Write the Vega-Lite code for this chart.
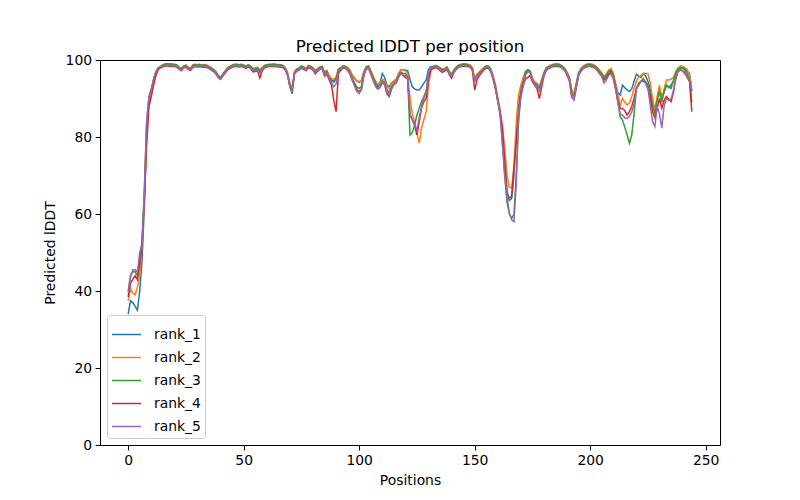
{
"$schema": "https://vega.github.io/schema/vega-lite/v6.json",
"width": 620, "height": 385,
"autosize": {"type": "none"},
"padding": {"left": 100, "top": 60, "right": 80, "bottom": 55},
"background": "white",
"title": {"text": "Predicted lDDT per position", "fontSize": 16.7, "fontWeight": "normal", "font": "DejaVu Sans", "color": "black", "offset": -3, "anchor": "middle"},
"data": {"values": [
{"p":0,"rank_1":34,"rank_2":37.5,"rank_3":40,"rank_4":38.5,"rank_5":39.5},
{"p":1,"rank_1":37.5,"rank_2":40.5,"rank_3":44,"rank_4":42,"rank_5":43.5},
{"p":2,"rank_1":37,"rank_2":39.5,"rank_3":45,"rank_4":43,"rank_5":45.5},
{"p":3,"rank_1":36,"rank_2":39,"rank_3":45,"rank_4":44,"rank_5":45.5},
{"p":4,"rank_1":35,"rank_2":41,"rank_3":44,"rank_4":43,"rank_5":45},
{"p":5,"rank_1":40,"rank_2":44,"rank_3":48,"rank_4":47,"rank_5":50},
{"p":6,"rank_1":48,"rank_2":52,"rank_3":53,"rank_4":52,"rank_5":52},
{"p":7,"rank_1":62,"rank_2":64,"rank_3":66,"rank_4":64,"rank_5":66},
{"p":8,"rank_1":81,"rank_2":82,"rank_3":84,"rank_4":78,"rank_5":84},
{"p":9,"rank_1":90,"rank_2":89,"rank_3":90.5,"rank_4":88,"rank_5":90.5},
{"p":10,"rank_1":92,"rank_2":91.5,"rank_3":92.5,"rank_4":90.5,"rank_5":92.5},
{"p":11,"rank_1":94.5,"rank_2":94,"rank_3":95,"rank_4":93.5,"rank_5":95},
{"p":12,"rank_1":96.5,"rank_2":96.3,"rank_3":97,"rank_4":96,"rank_5":97},
{"p":13,"rank_1":97.8,"rank_2":97.6,"rank_3":98,"rank_4":97.5,"rank_5":98},
{"p":14,"rank_1":98.2,"rank_2":98.2,"rank_3":98.3,"rank_4":98,"rank_5":98.3},
{"p":15,"rank_1":98.6,"rank_2":98.8,"rank_3":98.7,"rank_4":98.2,"rank_5":98.4},
{"p":16,"rank_1":98.8,"rank_2":99,"rank_3":98.9,"rank_4":98.4,"rank_5":98.6},
{"p":17,"rank_1":98.9,"rank_2":99,"rank_3":99,"rank_4":98.5,"rank_5":98.7},
{"p":18,"rank_1":98.8,"rank_2":99,"rank_3":98.9,"rank_4":98.4,"rank_5":98.6},
{"p":19,"rank_1":98.8,"rank_2":99,"rank_3":98.9,"rank_4":98.4,"rank_5":98.6},
{"p":20,"rank_1":98.7,"rank_2":98.9,"rank_3":98.8,"rank_4":98.3,"rank_5":98.5},
{"p":21,"rank_1":98.6,"rank_2":98.8,"rank_3":98.7,"rank_4":98.2,"rank_5":98.4},
{"p":22,"rank_1":98,"rank_2":98.2,"rank_3":98.1,"rank_4":97.6,"rank_5":97.8},
{"p":23,"rank_1":97.6,"rank_2":97.8,"rank_3":97.7,"rank_4":97.2,"rank_5":97.4},
{"p":24,"rank_1":98.3,"rank_2":98.5,"rank_3":98.4,"rank_4":97.9,"rank_5":98.1},
{"p":25,"rank_1":98.5,"rank_2":98.7,"rank_3":98.6,"rank_4":98.1,"rank_5":98.3},
{"p":26,"rank_1":97.9,"rank_2":98.1,"rank_3":98,"rank_4":97.5,"rank_5":97.7},
{"p":27,"rank_1":97.7,"rank_2":97.9,"rank_3":97.8,"rank_4":97.3,"rank_5":97.5},
{"p":28,"rank_1":98.5,"rank_2":98.7,"rank_3":98.6,"rank_4":98.1,"rank_5":98.3},
{"p":29,"rank_1":98.7,"rank_2":98.9,"rank_3":98.8,"rank_4":98.3,"rank_5":98.5},
{"p":30,"rank_1":98.6,"rank_2":98.8,"rank_3":98.7,"rank_4":98.2,"rank_5":98.4},
{"p":31,"rank_1":98.7,"rank_2":98.9,"rank_3":98.8,"rank_4":98.3,"rank_5":98.5},
{"p":32,"rank_1":98.5,"rank_2":98.7,"rank_3":98.6,"rank_4":98.1,"rank_5":98.3},
{"p":33,"rank_1":98.6,"rank_2":98.8,"rank_3":98.7,"rank_4":98.2,"rank_5":98.4},
{"p":34,"rank_1":98.5,"rank_2":98.7,"rank_3":98.6,"rank_4":98.1,"rank_5":98.3},
{"p":35,"rank_1":98.2,"rank_2":98.4,"rank_3":98.3,"rank_4":97.8,"rank_5":98},
{"p":36,"rank_1":97.8,"rank_2":98,"rank_3":97.9,"rank_4":97.4,"rank_5":97.6},
{"p":37,"rank_1":97.4,"rank_2":97.6,"rank_3":97.5,"rank_4":97,"rank_5":97.2},
{"p":38,"rank_1":96.8,"rank_2":97,"rank_3":96.9,"rank_4":96.4,"rank_5":96.6},
{"p":39,"rank_1":95.8,"rank_2":96,"rank_3":95.9,"rank_4":95.4,"rank_5":95.6},
{"p":40,"rank_1":95.3,"rank_2":95.5,"rank_3":95.4,"rank_4":95,"rank_5":95},
{"p":41,"rank_1":96.2,"rank_2":96.4,"rank_3":96.3,"rank_4":95.8,"rank_5":96},
{"p":42,"rank_1":97,"rank_2":97.2,"rank_3":97.1,"rank_4":96.6,"rank_5":96.8},
{"p":43,"rank_1":97.8,"rank_2":98,"rank_3":97.9,"rank_4":97.4,"rank_5":97.6},
{"p":44,"rank_1":98.2,"rank_2":98.4,"rank_3":98.3,"rank_4":97.8,"rank_5":98},
{"p":45,"rank_1":98.5,"rank_2":98.7,"rank_3":98.6,"rank_4":98.1,"rank_5":98.3},
{"p":46,"rank_1":98.7,"rank_2":98.9,"rank_3":98.8,"rank_4":98.3,"rank_5":98.5},
{"p":47,"rank_1":98.7,"rank_2":98.9,"rank_3":98.8,"rank_4":98.3,"rank_5":98.5},
{"p":48,"rank_1":98.6,"rank_2":98.8,"rank_3":98.7,"rank_4":98.2,"rank_5":98.4},
{"p":49,"rank_1":98.7,"rank_2":98.9,"rank_3":98.8,"rank_4":98.3,"rank_5":98.5},
{"p":50,"rank_1":98.5,"rank_2":98.7,"rank_3":98.6,"rank_4":98.1,"rank_5":98.3},
{"p":51,"rank_1":98.2,"rank_2":98.4,"rank_3":98.3,"rank_4":97.8,"rank_5":98},
{"p":52,"rank_1":98.6,"rank_2":98.8,"rank_3":98.7,"rank_4":98.2,"rank_5":98.4},
{"p":53,"rank_1":98.2,"rank_2":98.4,"rank_3":98.3,"rank_4":97.8,"rank_5":98},
{"p":54,"rank_1":97.5,"rank_2":97.9,"rank_3":97.6,"rank_4":96.9,"rank_5":97.3},
{"p":55,"rank_1":97.6,"rank_2":98,"rank_3":97.6,"rank_4":97,"rank_5":97.3},
{"p":56,"rank_1":97.8,"rank_2":98.1,"rank_3":97.9,"rank_4":97.2,"rank_5":97.6},
{"p":57,"rank_1":97,"rank_2":97.5,"rank_3":97,"rank_4":95.3,"rank_5":96.6},
{"p":58,"rank_1":97.8,"rank_2":98,"rank_3":97.9,"rank_4":97.2,"rank_5":97.6},
{"p":59,"rank_1":98.4,"rank_2":98.6,"rank_3":98.5,"rank_4":98,"rank_5":98.2},
{"p":60,"rank_1":98.6,"rank_2":98.8,"rank_3":98.7,"rank_4":98.2,"rank_5":98.4},
{"p":61,"rank_1":98.7,"rank_2":98.9,"rank_3":98.8,"rank_4":98.3,"rank_5":98.5},
{"p":62,"rank_1":98.7,"rank_2":98.9,"rank_3":98.8,"rank_4":98.3,"rank_5":98.5},
{"p":63,"rank_1":98.8,"rank_2":99,"rank_3":98.9,"rank_4":98.4,"rank_5":98.6},
{"p":64,"rank_1":98.7,"rank_2":98.9,"rank_3":98.8,"rank_4":98.3,"rank_5":98.5},
{"p":65,"rank_1":98.6,"rank_2":98.8,"rank_3":98.7,"rank_4":98.2,"rank_5":98.4},
{"p":66,"rank_1":98.6,"rank_2":98.8,"rank_3":98.7,"rank_4":98.2,"rank_5":98.4},
{"p":67,"rank_1":98.4,"rank_2":98.6,"rank_3":98.5,"rank_4":98,"rank_5":98.2},
{"p":68,"rank_1":97.8,"rank_2":98,"rank_3":97.9,"rank_4":97.4,"rank_5":97.6},
{"p":69,"rank_1":96.5,"rank_2":96.8,"rank_3":96.3,"rank_4":96,"rank_5":96.2},
{"p":70,"rank_1":93.6,"rank_2":94,"rank_3":93,"rank_4":93.2,"rank_5":93.3},
{"p":71,"rank_1":92.6,"rank_2":92.8,"rank_3":91.2,"rank_4":92.3,"rank_5":92.4},
{"p":72,"rank_1":96.8,"rank_2":97.1,"rank_3":96.6,"rank_4":96.4,"rank_5":96.6},
{"p":73,"rank_1":97.5,"rank_2":97.7,"rank_3":97.6,"rank_4":97.1,"rank_5":97.3},
{"p":74,"rank_1":97.8,"rank_2":98,"rank_3":97.9,"rank_4":97.4,"rank_5":97.6},
{"p":75,"rank_1":98.3,"rank_2":98.5,"rank_3":98.4,"rank_4":97.9,"rank_5":98.1},
{"p":76,"rank_1":98,"rank_2":98.2,"rank_3":98.1,"rank_4":97.6,"rank_5":97.8},
{"p":77,"rank_1":97.6,"rank_2":97.8,"rank_3":97.7,"rank_4":97.2,"rank_5":97.4},
{"p":78,"rank_1":98.4,"rank_2":98.6,"rank_3":98.5,"rank_4":98,"rank_5":98.2},
{"p":79,"rank_1":98.2,"rank_2":98.4,"rank_3":98.3,"rank_4":97.8,"rank_5":98},
{"p":80,"rank_1":97.8,"rank_2":98,"rank_3":97.9,"rank_4":97.4,"rank_5":97.6},
{"p":81,"rank_1":97,"rank_2":97.3,"rank_3":97.1,"rank_4":96.4,"rank_5":96.8},
{"p":82,"rank_1":97.5,"rank_2":97.8,"rank_3":97.6,"rank_4":97,"rank_5":97.3},
{"p":83,"rank_1":98,"rank_2":98.2,"rank_3":98.1,"rank_4":97.6,"rank_5":97.8},
{"p":84,"rank_1":98.2,"rank_2":98.4,"rank_3":98.3,"rank_4":97.8,"rank_5":98},
{"p":85,"rank_1":96.6,"rank_2":96.9,"rank_3":96.5,"rank_4":95.8,"rank_5":96.2},
{"p":86,"rank_1":97,"rank_2":97.3,"rank_3":97.1,"rank_4":96.4,"rank_5":96.8},
{"p":87,"rank_1":95.6,"rank_2":96,"rank_3":95.5,"rank_4":94.8,"rank_5":95.2},
{"p":88,"rank_1":94.8,"rank_2":95.2,"rank_3":94.6,"rank_4":93.5,"rank_5":94.2},
{"p":89,"rank_1":94.5,"rank_2":95,"rank_3":94.2,"rank_4":89.5,"rank_5":93},
{"p":90,"rank_1":95.2,"rank_2":95.6,"rank_3":95,"rank_4":86.6,"rank_5":93.8},
{"p":91,"rank_1":97.4,"rank_2":97.7,"rank_3":97.5,"rank_4":96.5,"rank_5":97},
{"p":92,"rank_1":97.8,"rank_2":98,"rank_3":97.9,"rank_4":97.3,"rank_5":97.6},
{"p":93,"rank_1":98.3,"rank_2":98.5,"rank_3":98.4,"rank_4":97.9,"rank_5":98.1},
{"p":94,"rank_1":98.2,"rank_2":98.4,"rank_3":98.3,"rank_4":97.8,"rank_5":98},
{"p":95,"rank_1":97.8,"rank_2":98.1,"rank_3":97.8,"rank_4":97.3,"rank_5":97.5},
{"p":96,"rank_1":97.2,"rank_2":97.5,"rank_3":96.8,"rank_4":96.4,"rank_5":96.5},
{"p":97,"rank_1":96,"rank_2":96.2,"rank_3":95.3,"rank_4":94.8,"rank_5":94.7},
{"p":98,"rank_1":95.2,"rank_2":95.4,"rank_3":94,"rank_4":93.5,"rank_5":93.2},
{"p":99,"rank_1":94.5,"rank_2":94.6,"rank_3":93,"rank_4":92.3,"rank_5":91.8},
{"p":100,"rank_1":94.2,"rank_2":94.4,"rank_3":92.6,"rank_4":91.8,"rank_5":91.3},
{"p":101,"rank_1":94.6,"rank_2":94.8,"rank_3":93.2,"rank_4":92.5,"rank_5":92.3},
{"p":102,"rank_1":96.8,"rank_2":97,"rank_3":96.4,"rank_4":96,"rank_5":95.8},
{"p":103,"rank_1":98,"rank_2":98.2,"rank_3":98.1,"rank_4":97.6,"rank_5":97.8},
{"p":104,"rank_1":98.3,"rank_2":98.5,"rank_3":98.4,"rank_4":97.9,"rank_5":98.1},
{"p":105,"rank_1":97,"rank_2":97.3,"rank_3":97,"rank_4":96.4,"rank_5":96.6},
{"p":106,"rank_1":95.6,"rank_2":96,"rank_3":95.4,"rank_4":94.8,"rank_5":95},
{"p":107,"rank_1":94.2,"rank_2":94.6,"rank_3":93.8,"rank_4":93.4,"rank_5":93.3},
{"p":108,"rank_1":93.5,"rank_2":93.8,"rank_3":93,"rank_4":92.6,"rank_5":92.4},
{"p":109,"rank_1":94,"rank_2":94,"rank_3":93.5,"rank_4":92.8,"rank_5":92.8},
{"p":110,"rank_1":96.5,"rank_2":95,"rank_3":94.6,"rank_4":94.2,"rank_5":94.4},
{"p":111,"rank_1":95.5,"rank_2":94.8,"rank_3":94.2,"rank_4":93.6,"rank_5":94},
{"p":112,"rank_1":93.5,"rank_2":93.2,"rank_3":92.3,"rank_4":91.2,"rank_5":91.6},
{"p":113,"rank_1":93,"rank_2":92.5,"rank_3":91.5,"rank_4":90.5,"rank_5":91},
{"p":114,"rank_1":94,"rank_2":93.8,"rank_3":93,"rank_4":92.4,"rank_5":92.6},
{"p":115,"rank_1":94.5,"rank_2":94.6,"rank_3":94,"rank_4":93.6,"rank_5":93.8},
{"p":116,"rank_1":95,"rank_2":95,"rank_3":94.4,"rank_4":94,"rank_5":94.2},
{"p":117,"rank_1":96.3,"rank_2":96.5,"rank_3":95.8,"rank_4":95.4,"rank_5":95.6},
{"p":118,"rank_1":97.4,"rank_2":97.5,"rank_3":96.8,"rank_4":96.6,"rank_5":96.5},
{"p":119,"rank_1":97.4,"rank_2":97.4,"rank_3":96.5,"rank_4":96,"rank_5":96},
{"p":120,"rank_1":97.4,"rank_2":97.2,"rank_3":96.5,"rank_4":95.5,"rank_5":96},
{"p":121,"rank_1":97.2,"rank_2":96.5,"rank_3":95.5,"rank_4":95,"rank_5":95.5},
{"p":122,"rank_1":95,"rank_2":90,"rank_3":80.5,"rank_4":85.7,"rank_5":86},
{"p":123,"rank_1":93,"rank_2":86,"rank_3":81.2,"rank_4":84.5,"rank_5":84.5},
{"p":124,"rank_1":92.5,"rank_2":84,"rank_3":83,"rank_4":83,"rank_5":83},
{"p":125,"rank_1":92.2,"rank_2":81,"rank_3":85.7,"rank_4":80.5,"rank_5":81.8},
{"p":126,"rank_1":92.2,"rank_2":78.4,"rank_3":87.5,"rank_4":84,"rank_5":85},
{"p":127,"rank_1":93,"rank_2":82.3,"rank_3":89.2,"rank_4":87.5,"rank_5":88},
{"p":128,"rank_1":94,"rank_2":84.5,"rank_3":90.5,"rank_4":89.2,"rank_5":90},
{"p":129,"rank_1":94.8,"rank_2":86.6,"rank_3":92,"rank_4":90,"rank_5":91.5},
{"p":130,"rank_1":97.5,"rank_2":93.5,"rank_3":96.1,"rank_4":95,"rank_5":96.5},
{"p":131,"rank_1":98.3,"rank_2":97,"rank_3":98,"rank_4":97.5,"rank_5":98},
{"p":132,"rank_1":98.3,"rank_2":98,"rank_3":98.3,"rank_4":97.8,"rank_5":98.1},
{"p":133,"rank_1":98.4,"rank_2":98.6,"rank_3":98.5,"rank_4":98,"rank_5":98.2},
{"p":134,"rank_1":98.2,"rank_2":98.4,"rank_3":98.3,"rank_4":97.8,"rank_5":98},
{"p":135,"rank_1":97.8,"rank_2":98,"rank_3":97.9,"rank_4":97.2,"rank_5":97.6},
{"p":136,"rank_1":97.4,"rank_2":97.6,"rank_3":97.5,"rank_4":96.8,"rank_5":97.2},
{"p":137,"rank_1":97.6,"rank_2":97.8,"rank_3":97.7,"rank_4":97.1,"rank_5":97.4},
{"p":138,"rank_1":98,"rank_2":98.2,"rank_3":98.1,"rank_4":97.6,"rank_5":97.8},
{"p":139,"rank_1":96.8,"rank_2":97.1,"rank_3":96.9,"rank_4":96.2,"rank_5":96.5},
{"p":140,"rank_1":96.1,"rank_2":96.4,"rank_3":96,"rank_4":95.3,"rank_5":95.8},
{"p":141,"rank_1":97.2,"rank_2":97.5,"rank_3":97.3,"rank_4":96.7,"rank_5":97},
{"p":142,"rank_1":98,"rank_2":98.2,"rank_3":98.1,"rank_4":97.6,"rank_5":97.8},
{"p":143,"rank_1":98.5,"rank_2":98.7,"rank_3":98.6,"rank_4":98.1,"rank_5":98.3},
{"p":144,"rank_1":98.7,"rank_2":98.9,"rank_3":98.8,"rank_4":98.3,"rank_5":98.5},
{"p":145,"rank_1":98.8,"rank_2":99,"rank_3":98.9,"rank_4":98.4,"rank_5":98.6},
{"p":146,"rank_1":98.8,"rank_2":99,"rank_3":98.9,"rank_4":98.4,"rank_5":98.6},
{"p":147,"rank_1":98.7,"rank_2":98.9,"rank_3":98.8,"rank_4":98.3,"rank_5":98.5},
{"p":148,"rank_1":98.5,"rank_2":98.7,"rank_3":98.6,"rank_4":98.1,"rank_5":98.3},
{"p":149,"rank_1":97.8,"rank_2":98,"rank_3":97.9,"rank_4":97.3,"rank_5":97.6},
{"p":150,"rank_1":95,"rank_2":95.2,"rank_3":94.8,"rank_4":92.2,"rank_5":94.5},
{"p":151,"rank_1":96.2,"rank_2":96.4,"rank_3":96,"rank_4":95,"rank_5":95.8},
{"p":152,"rank_1":96.6,"rank_2":96.9,"rank_3":96.5,"rank_4":95.9,"rank_5":96.3},
{"p":153,"rank_1":97.2,"rank_2":97.5,"rank_3":97.3,"rank_4":96.7,"rank_5":97},
{"p":154,"rank_1":97.8,"rank_2":98,"rank_3":97.9,"rank_4":97.4,"rank_5":97.6},
{"p":155,"rank_1":98.3,"rank_2":98.5,"rank_3":98.4,"rank_4":97.9,"rank_5":98.1},
{"p":156,"rank_1":98.2,"rank_2":98.4,"rank_3":98.3,"rank_4":97.8,"rank_5":98},
{"p":157,"rank_1":97.4,"rank_2":97.7,"rank_3":97.5,"rank_4":96.9,"rank_5":97.2},
{"p":158,"rank_1":95.6,"rank_2":96,"rank_3":95.4,"rank_4":95,"rank_5":95.2},
{"p":159,"rank_1":93.2,"rank_2":93.6,"rank_3":92.8,"rank_4":92.5,"rank_5":92.6},
{"p":160,"rank_1":89.8,"rank_2":90.2,"rank_3":89.2,"rank_4":89.3,"rank_5":89.4},
{"p":161,"rank_1":86.5,"rank_2":87,"rank_3":86,"rank_4":86.5,"rank_5":86},
{"p":162,"rank_1":81.5,"rank_2":83,"rank_3":79,"rank_4":82,"rank_5":78},
{"p":163,"rank_1":74,"rank_2":77,"rank_3":70,"rank_4":74,"rank_5":70},
{"p":164,"rank_1":66,"rank_2":70,"rank_3":63,"rank_4":65,"rank_5":64.6},
{"p":165,"rank_1":63.5,"rank_2":67,"rank_3":60.2,"rank_4":64.2,"rank_5":60.2},
{"p":166,"rank_1":64,"rank_2":66.7,"rank_3":58.9,"rank_4":64.5,"rank_5":58.5},
{"p":167,"rank_1":70,"rank_2":72,"rank_3":60,"rank_4":72.3,"rank_5":58},
{"p":168,"rank_1":80,"rank_2":84,"rank_3":70,"rank_4":79,"rank_5":68},
{"p":169,"rank_1":88,"rank_2":91,"rank_3":84,"rank_4":86,"rank_5":85.3},
{"p":170,"rank_1":92.5,"rank_2":93.5,"rank_3":91,"rank_4":91,"rank_5":90.5},
{"p":171,"rank_1":94.5,"rank_2":95.5,"rank_3":94,"rank_4":93.5,"rank_5":93},
{"p":172,"rank_1":96.5,"rank_2":97,"rank_3":97,"rank_4":95,"rank_5":96},
{"p":173,"rank_1":97.3,"rank_2":97.5,"rank_3":97.5,"rank_4":95.5,"rank_5":97},
{"p":174,"rank_1":97,"rank_2":97.2,"rank_3":97,"rank_4":96,"rank_5":96.6},
{"p":175,"rank_1":95,"rank_2":95.3,"rank_3":94.8,"rank_4":94.4,"rank_5":94.6},
{"p":176,"rank_1":94,"rank_2":94.4,"rank_3":93.6,"rank_4":93.4,"rank_5":93.6},
{"p":177,"rank_1":93.6,"rank_2":94,"rank_3":93.3,"rank_4":92.5,"rank_5":93},
{"p":178,"rank_1":92.8,"rank_2":93.2,"rank_3":92.6,"rank_4":90,"rank_5":92},
{"p":179,"rank_1":94.6,"rank_2":95,"rank_3":94.5,"rank_4":93,"rank_5":94},
{"p":180,"rank_1":96.5,"rank_2":96.8,"rank_3":96.6,"rank_4":95.8,"rank_5":96.2},
{"p":181,"rank_1":97.8,"rank_2":98,"rank_3":97.9,"rank_4":97.3,"rank_5":97.6},
{"p":182,"rank_1":98.2,"rank_2":98.4,"rank_3":98.3,"rank_4":97.8,"rank_5":98},
{"p":183,"rank_1":98.5,"rank_2":98.7,"rank_3":98.6,"rank_4":98.1,"rank_5":98.3},
{"p":184,"rank_1":98.7,"rank_2":98.9,"rank_3":98.8,"rank_4":98.3,"rank_5":98.5},
{"p":185,"rank_1":98.8,"rank_2":99,"rank_3":98.9,"rank_4":98.4,"rank_5":98.6},
{"p":186,"rank_1":98.8,"rank_2":99,"rank_3":98.9,"rank_4":98.4,"rank_5":98.6},
{"p":187,"rank_1":98.6,"rank_2":98.8,"rank_3":98.7,"rank_4":98.2,"rank_5":98.4},
{"p":188,"rank_1":98.2,"rank_2":98.4,"rank_3":98.3,"rank_4":97.8,"rank_5":98},
{"p":189,"rank_1":97.6,"rank_2":97.8,"rank_3":97.7,"rank_4":97.2,"rank_5":97.4},
{"p":190,"rank_1":96.6,"rank_2":96.9,"rank_3":96.5,"rank_4":96,"rank_5":96.2},
{"p":191,"rank_1":95.3,"rank_2":95.6,"rank_3":95,"rank_4":94.6,"rank_5":94.8},
{"p":192,"rank_1":92,"rank_2":92.3,"rank_3":91.2,"rank_4":90.3,"rank_5":90.5},
{"p":193,"rank_1":91,"rank_2":91.2,"rank_3":90.6,"rank_4":89.8,"rank_5":89.6},
{"p":194,"rank_1":93.8,"rank_2":94,"rank_3":93.5,"rank_4":92.8,"rank_5":93},
{"p":195,"rank_1":96.6,"rank_2":96.8,"rank_3":96.5,"rank_4":96,"rank_5":96.2},
{"p":196,"rank_1":97.5,"rank_2":97.8,"rank_3":97.6,"rank_4":97.1,"rank_5":97.3},
{"p":197,"rank_1":98.2,"rank_2":98.5,"rank_3":98.3,"rank_4":97.8,"rank_5":98},
{"p":198,"rank_1":98.5,"rank_2":98.8,"rank_3":98.6,"rank_4":98.1,"rank_5":98.3},
{"p":199,"rank_1":98.7,"rank_2":99,"rank_3":98.8,"rank_4":98.3,"rank_5":98.5},
{"p":200,"rank_1":98.7,"rank_2":99,"rank_3":98.8,"rank_4":98.3,"rank_5":98.5},
{"p":201,"rank_1":98.6,"rank_2":98.9,"rank_3":98.7,"rank_4":98.2,"rank_5":98.4},
{"p":202,"rank_1":98.3,"rank_2":98.6,"rank_3":98.4,"rank_4":97.9,"rank_5":98.1},
{"p":203,"rank_1":97.8,"rank_2":98.1,"rank_3":97.9,"rank_4":97.4,"rank_5":97.5},
{"p":204,"rank_1":97,"rank_2":97.4,"rank_3":97.1,"rank_4":96.5,"rank_5":96.6},
{"p":205,"rank_1":96.3,"rank_2":96.7,"rank_3":96.4,"rank_4":95.8,"rank_5":95.8},
{"p":206,"rank_1":95.3,"rank_2":95.7,"rank_3":95.4,"rank_4":94.8,"rank_5":94},
{"p":207,"rank_1":95.9,"rank_2":96.4,"rank_3":96,"rank_4":95.3,"rank_5":94.8},
{"p":208,"rank_1":96.9,"rank_2":97.4,"rank_3":97,"rank_4":96.3,"rank_5":96},
{"p":209,"rank_1":97.2,"rank_2":97.8,"rank_3":97.4,"rank_4":96.8,"rank_5":96.5},
{"p":210,"rank_1":96,"rank_2":96.6,"rank_3":96,"rank_4":95.3,"rank_5":95.2},
{"p":211,"rank_1":93.8,"rank_2":94,"rank_3":93,"rank_4":92.4,"rank_5":92.5},
{"p":212,"rank_1":91.5,"rank_2":91,"rank_3":89,"rank_4":89.5,"rank_5":89},
{"p":213,"rank_1":90.9,"rank_2":88.3,"rank_3":85.3,"rank_4":87.4,"rank_5":86},
{"p":214,"rank_1":93.5,"rank_2":90,"rank_3":84.4,"rank_4":87.4,"rank_5":85.7},
{"p":215,"rank_1":92.8,"rank_2":89,"rank_3":82.5,"rank_4":86.8,"rank_5":85},
{"p":216,"rank_1":92.2,"rank_2":88.3,"rank_3":80.5,"rank_4":85.7,"rank_5":84.8},
{"p":217,"rank_1":91.8,"rank_2":88.8,"rank_3":78.4,"rank_4":86.6,"rank_5":85.3},
{"p":218,"rank_1":92.5,"rank_2":90.5,"rank_3":80.5,"rank_4":88,"rank_5":86.5},
{"p":219,"rank_1":94.5,"rank_2":92.6,"rank_3":86,"rank_4":90,"rank_5":88.5},
{"p":220,"rank_1":96.3,"rank_2":94.5,"rank_3":92.6,"rank_4":92.5,"rank_5":92.6},
{"p":221,"rank_1":95.8,"rank_2":95.5,"rank_3":94,"rank_4":93.5,"rank_5":93.8},
{"p":222,"rank_1":95.5,"rank_2":96,"rank_3":94.4,"rank_4":94.5,"rank_5":94.4},
{"p":223,"rank_1":96.5,"rank_2":96.5,"rank_3":95.2,"rank_4":94.5,"rank_5":94.8},
{"p":224,"rank_1":95.8,"rank_2":96.5,"rank_3":94.4,"rank_4":94,"rank_5":94},
{"p":225,"rank_1":94.5,"rank_2":96.5,"rank_3":93.5,"rank_4":92.6,"rank_5":92.6},
{"p":226,"rank_1":92.6,"rank_2":94,"rank_3":91.5,"rank_4":90.5,"rank_5":88.3},
{"p":227,"rank_1":89.5,"rank_2":90,"rank_3":88,"rank_4":86.5,"rank_5":84},
{"p":228,"rank_1":87,"rank_2":86.6,"rank_3":86,"rank_4":85,"rank_5":82.7},
{"p":229,"rank_1":90,"rank_2":90.5,"rank_3":89.5,"rank_4":87.5,"rank_5":88},
{"p":230,"rank_1":92.6,"rank_2":93.5,"rank_3":91.8,"rank_4":90,"rank_5":86},
{"p":231,"rank_1":90.5,"rank_2":89.5,"rank_3":89,"rank_4":87.5,"rank_5":82.3},
{"p":232,"rank_1":91.5,"rank_2":92.5,"rank_3":92,"rank_4":89.5,"rank_5":88},
{"p":233,"rank_1":93.5,"rank_2":94.8,"rank_3":93.5,"rank_4":90.5,"rank_5":90},
{"p":234,"rank_1":92.8,"rank_2":94.8,"rank_3":93,"rank_4":89.9,"rank_5":89.5},
{"p":235,"rank_1":93.5,"rank_2":95,"rank_3":92.6,"rank_4":89.2,"rank_5":89.9},
{"p":236,"rank_1":94.4,"rank_2":95.5,"rank_3":94.5,"rank_4":91.5,"rank_5":92},
{"p":237,"rank_1":96.5,"rank_2":97,"rank_3":96.5,"rank_4":95,"rank_5":95},
{"p":238,"rank_1":97.5,"rank_2":97.8,"rank_3":97.8,"rank_4":97,"rank_5":97.4},
{"p":239,"rank_1":98.3,"rank_2":98.5,"rank_3":97.8,"rank_4":97.4,"rank_5":97.4},
{"p":240,"rank_1":98,"rank_2":98.3,"rank_3":97.8,"rank_4":97.2,"rank_5":97.2},
{"p":241,"rank_1":97.8,"rank_2":98,"rank_3":97.5,"rank_4":96.5,"rank_5":97},
{"p":242,"rank_1":97,"rank_2":97.5,"rank_3":96.5,"rank_4":95.5,"rank_5":95.8},
{"p":243,"rank_1":96.5,"rank_2":96,"rank_3":95,"rank_4":94.4,"rank_5":94.5},
{"p":244,"rank_1":92,"rank_2":93,"rank_3":89,"rank_4":86.6,"rank_5":91.8}
]},
"transform": [{"fold": ["rank_1","rank_2","rank_3","rank_4","rank_5"], "as": ["model","plddt"]}],
"mark": {"type": "line", "strokeWidth": 1.5},
"encoding": {
  "x": {"field": "p", "type": "quantitative", "scale": {"domain": [-12.2, 256.2], "nice": false, "zero": false}, "axis": {"values": [0,50,100,150,200,250], "title": "Positions", "titlePadding": 6}},
  "y": {"field": "plddt", "type": "quantitative", "scale": {"domain": [0, 100], "nice": false}, "axis": {"values": [0,20,40,60,80,100], "title": "Predicted lDDT", "titlePadding": 8}},
  "color": {"field": "model", "type": "nominal", "scale": {"domain": ["rank_1","rank_2","rank_3","rank_4","rank_5"], "range": ["#1f77b4","#ff7f0e","#2ca02c","#d62728","#9467bd"]}, "legend": {"title": null}}
},
"config": {
  "view": {"stroke": "black", "strokeWidth": 1},
  "axis": {"grid": false, "domain": false, "tickColor": "black", "tickSize": 4.9, "tickWidth": 1, "labelFont": "DejaVu Sans", "labelFontSize": 13.9, "labelColor": "black", "labelPadding": 3.5, "titleFont": "DejaVu Sans", "titleFontSize": 13.9, "titleFontWeight": "normal", "titleColor": "black"},
  "legend": {"orient": "bottom-left", "offset": 7, "padding": 4, "strokeColor": "#cccccc", "fillColor": "white", "cornerRadius": 3, "symbolType": "stroke", "symbolStrokeWidth": 1.5, "symbolSize": 841, "labelFont": "DejaVu Sans", "labelFontSize": 13.9, "labelColor": "black", "labelOffset": 12, "rowPadding": -11}
}
}
